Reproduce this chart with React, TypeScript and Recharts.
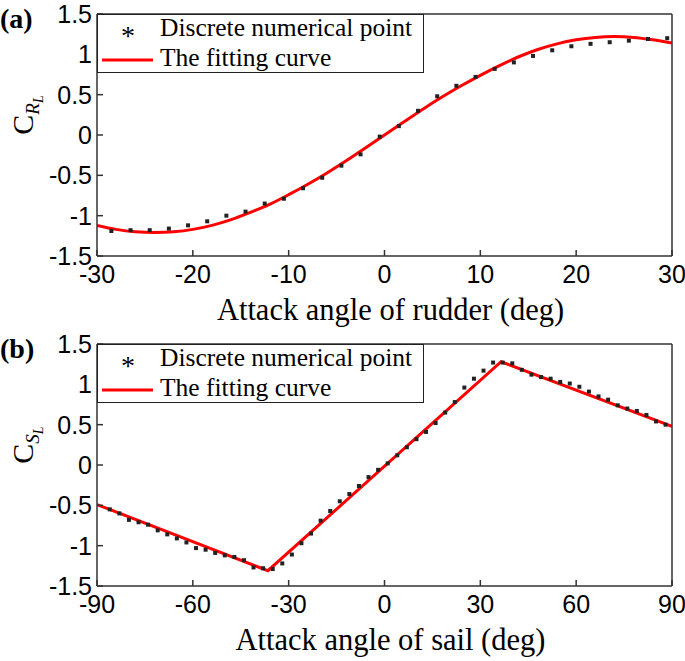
import { ComposedChart, Scatter, Line, XAxis, YAxis, Legend } from "recharts";

const SERIF = '"Liberation Serif", "Times New Roman", serif';
const SANS = '"Liberation Sans", Arial, sans-serif';
const AXIS = "#333333";

// (a) rudder
const rudderAngles = [
  -28.5, -26.5, -24.5, -22.5, -20.5, -18.5, -16.5, -14.5, -12.5, -10.5, -8.5, -6.5, -4.5, -2.5, -0.5,
  1.5, 3.5, 5.5, 7.5, 9.5, 11.5, 13.5, 15.5, 17.5, 19.5, 21.5, 23.5, 25.5, 27.5, 29.5,
];
const rudderCoef = [
  -1.19, -1.18, -1.18, -1.16, -1.12, -1.07, -1.0, -0.95, -0.85, -0.79, -0.66, -0.53, -0.38, -0.24, -0.02,
  0.11, 0.3, 0.48, 0.61, 0.72, 0.82, 0.9, 0.98, 1.05, 1.1, 1.13, 1.15, 1.17, 1.19, 1.2,
];
const rudderFitAngles = [
  -30, -28, -26, -24, -22, -20, -18, -16, -14, -12, -10, -8, -6, -4, -2, 0,
  2, 4, 6, 8, 10, 12, 14, 16, 18, 20, 22, 24, 26, 28, 30,
];
const rudderFit = [
  -1.12, -1.17, -1.2, -1.21, -1.2, -1.17, -1.12, -1.05, -0.96, -0.86, -0.74, -0.61, -0.47, -0.32, -0.16, 0,
  0.16, 0.32, 0.47, 0.61, 0.74, 0.86, 0.97, 1.06, 1.13, 1.18, 1.21, 1.22, 1.21, 1.18, 1.14,
];
const rudderTicks = [-30, -20, -10, 0, 10, 20, 30];

// (b) sail
const sailAngles = [
  -86, -83, -80, -77, -74, -71, -68, -65, -62, -59, -56, -53, -50, -47, -44, -41, -38, -35, -32, -29,
  -26, -23, -20, -17, -14, -11, -8, -5, -2, 1, 4, 7, 10, 13, 16, 19, 22, 25, 28, 31, 34, 37, 40, 43,
  46, 49, 52, 55, 58, 61, 64, 67, 70, 73, 76, 79, 82, 85, 88,
];
const sailCoef = [
  -0.55, -0.6, -0.68, -0.71, -0.74, -0.81, -0.86, -0.91, -0.96, -1.03, -1.05, -1.09, -1.12, -1.14, -1.18,
  -1.27, -1.28, -1.29, -1.22, -1.11, -0.97, -0.85, -0.69, -0.57, -0.45, -0.36, -0.26, -0.15, -0.06, 0.02,
  0.12, 0.22, 0.32, 0.41, 0.52, 0.65, 0.78, 0.96, 1.07, 1.17, 1.27, 1.27, 1.26, 1.18, 1.12, 1.09, 1.07,
  1.03, 1.01, 0.97, 0.91, 0.85, 0.81, 0.74, 0.7, 0.67, 0.62, 0.54, 0.5,
];
const sailFitAngles = [-90, -36.5, 36.5, 90];
const sailFit = [-0.49, -1.31, 1.28, 0.48];
const sailTicks = [-90, -60, -30, 0, 30, 60, 90];

const coefTicks = [-1.5, -1, -0.5, 0, 0.5, 1, 1.5];

const zip = (xs: number[], ys: number[]) => xs.map((x, i) => ({ x, y: ys[i] }));

function PointMark(props: any) {
  const { cx, cy } = props;
  if (cx == null || cy == null) return null;
  return <rect x={cx - 2} y={cy - 2} width={4} height={4} fill="#222" />;
}

function LegendBox() {
  return (
    <div
      style={{
        width: 327,
        height: 59,
        border: "1.5px solid #222",
        boxSizing: "border-box",
        background: "#fff",
      }}
    >
      <svg width={324} height={56} style={{ display: "block", overflow: "visible" }}>
        <text x={30} y={30} fontFamily={SERIF} fontSize={28} textAnchor="middle" fill="#000">
          *
        </text>
        <text x={62} y={21} fontFamily={SERIF} fontSize={25.5} fill="#000">
          Discrete numerical point
        </text>
        <line x1={4} x2={55} y1={45} y2={45} stroke="#ff0000" strokeWidth={3} />
        <text x={62} y={51} fontFamily={SERIF} fontSize={25.5} fill="#000">
          The fitting curve
        </text>
      </svg>
    </div>
  );
}

function Panel({
  tag,
  sub,
  xTitle,
  xDomain,
  xTicks,
  points,
  fit,
  curveType,
}: {
  tag: string;
  sub: string;
  xTitle: string;
  xDomain: [number, number];
  xTicks: number[];
  points: { x: number; y: number }[];
  fit: { x: number; y: number }[];
  curveType: "monotone" | "linear";
}) {
  const tickStyle = { fontSize: 25, fill: "#000", fontFamily: SANS };
  return (
    <ComposedChart width={685} height={330} margin={{ top: 13, right: 12, bottom: 0, left: 0 }}>
      <XAxis
        type="number"
        dataKey="x"
        domain={xDomain}
        ticks={xTicks}
        allowDataOverflow
        height={74}
        tick={tickStyle}
        tickSize={-6}
        tickMargin={15}
        stroke={AXIS}
        strokeWidth={1.5}
        interval={0}
        label={{
          content: (p: any) => {
            const vb = p.viewBox || { x: 97, y: 256, width: 575 };
            return (
              <text
                x={vb.x + vb.width / 2 + 6}
                y={vb.y + 64}
                textAnchor="middle"
                fontFamily={SERIF}
                fontSize={30.5}
                fill="#000"
              >
                {xTitle}
              </text>
            );
          },
        }}
      />
      <XAxis
        xAxisId="top"
        orientation="top"
        type="number"
        dataKey="x"
        domain={xDomain}
        ticks={xTicks}
        allowDataOverflow
        height={1}
        tick={false}
        tickSize={-6}
        stroke={AXIS}
        strokeWidth={1.5}
        interval={0}
      />
      <YAxis
        type="number"
        dataKey="y"
        domain={[-1.5, 1.5]}
        ticks={coefTicks}
        allowDataOverflow
        width={97}
        tick={tickStyle}
        tickSize={-6}
        tickMargin={11}
        stroke={AXIS}
        strokeWidth={1.5}
        interval={0}
        label={{
          content: (p: any) => {
            const vb = p.viewBox || { x: 0, y: 14, width: 97, height: 242 };
            const cx = 33;
            const cy = vb.y + vb.height / 2 - 20;
            return (
              <g>
                <text x={0} y={28} fontFamily={SERIF} fontSize={28} fontWeight="bold" fill="#000">
                  {tag}
                </text>
                <text
                  x={cx}
                  y={cy}
                  transform={`rotate(-90, ${cx}, ${cy})`}
                  textAnchor="middle"
                  fontFamily={SERIF}
                  fontSize={30}
                  fill="#000"
                >
                  C
                  <tspan fontSize={19} fontStyle="italic" dy={6}>
                    {sub}
                  </tspan>
                  <tspan fontSize={14} fontStyle="italic" dy={4}>
                    L
                  </tspan>
                </text>
              </g>
            );
          },
        }}
      />
      <YAxis
        yAxisId="right"
        orientation="right"
        type="number"
        domain={[-1.5, 1.5]}
        ticks={coefTicks}
        allowDataOverflow
        width={1}
        tick={false}
        tickSize={-6}
        stroke={AXIS}
        strokeWidth={1.5}
        interval={0}
      />
      <Legend
        layout="vertical"
        align="center"
        verticalAlign="middle"
        content={() => <LegendBox />}
        wrapperStyle={{ position: "absolute", top: 14, left: 97, width: 327, height: 59 }}
      />
      <Scatter
        name="Discrete numerical point"
        data={points}
        dataKey="y"
        shape={PointMark}
        isAnimationActive={false}
      />
      <Line
        name="The fitting curve"
        data={fit}
        dataKey="y"
        type={curveType}
        stroke="#ff0000"
        strokeWidth={3}
        dot={false}
        activeDot={false}
        isAnimationActive={false}
      />
    </ComposedChart>
  );
}

export default function App() {
  return (
    <div style={{ position: "absolute", left: 0, top: 0, width: 685, height: 661, background: "#fff" }}>
      <Panel
        tag="(a)"
        sub="R"
        xTitle="Attack angle of rudder (deg)"
        xDomain={[-30, 30]}
        xTicks={rudderTicks}
        points={zip(rudderAngles, rudderCoef)}
        fit={zip(rudderFitAngles, rudderFit)}
        curveType="monotone"
      />
      <Panel
        tag="(b)"
        sub="S"
        xTitle="Attack angle of sail (deg)"
        xDomain={[-90, 90]}
        xTicks={sailTicks}
        points={zip(sailAngles, sailCoef)}
        fit={zip(sailFitAngles, sailFit)}
        curveType="linear"
      />
    </div>
  );
}
